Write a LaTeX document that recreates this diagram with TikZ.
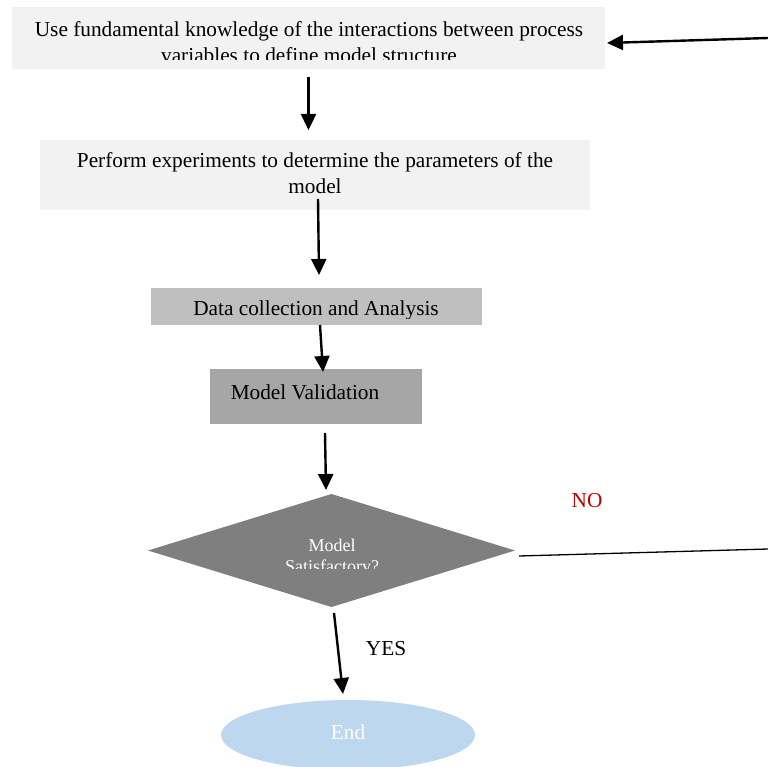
\documentclass[tikz,border=0pt]{standalone}
\usepackage{fontspec}
\setmainfont{Liberation Serif}
\usetikzlibrary{shapes.geometric,arrows.meta}
\definecolor{lightbox}{HTML}{F2F2F2}
\definecolor{midbox}{HTML}{BFBFBF}
\definecolor{darkbox}{HTML}{A6A6A6}
\definecolor{decbox}{HTML}{7F7F7F}
\definecolor{endfill}{HTML}{BDD7EE}
\definecolor{nored}{HTML}{C00000}
\begin{document}
\begin{tikzpicture}[x=1pt,y=-1pt,
  boxshape/.style={rectangle,inner sep=0pt,outer sep=0pt,draw=none},
  txt/.style={inner sep=0pt,outer sep=0pt,anchor=base,font=\fontsize{21.3}{26}\selectfont},
  smalltxt/.style={txt,font=\fontsize{18}{22}\selectfont,text=white},
  arr/.style={line width=2.4pt,-{Triangle[length=16pt,width=15pt]}},
]
\useasboundingbox (0,0) rectangle (768,767);

% boxes
\node[boxshape,fill=lightbox,minimum width=593pt,minimum height=62pt] (b1) at (308.5,38) {};
\node[boxshape,fill=lightbox,minimum width=550pt,minimum height=70pt] (b2) at (315,175) {};
\node[boxshape,fill=midbox,minimum width=331pt,minimum height=37pt] (b3) at (316.5,306.5) {};
\node[boxshape,fill=darkbox,minimum width=212pt,minimum height=55pt] (b4) at (316,396.5) {};
\node[diamond,inner sep=0pt,outer sep=0pt,fill=decbox,minimum width=367pt,minimum height=113pt] (d) at (331.5,550.5) {};
\node[ellipse,inner sep=0pt,outer sep=0pt,fill=endfill,minimum width=254pt,minimum height=70pt] (e) at (348,735) {};

% texts
\node[txt] (t1a) at (309,37) {Use fundamental knowledge of the interactions between process};
\begin{scope}
  \clip (0,40) rectangle (768,60);
  \node[txt] (t1b) at (309,63) {variables to define model structure};
\end{scope}
\node[txt] (t2a) at (315,168) {Perform experiments to determine the parameters of the};
\node[txt] (t2b) at (315,194) {model};
\begin{scope}
  \clip (0,290) rectangle (768,318);
  \node[txt] (t3) at (316,316) {Data collection and Analysis};
\end{scope}
\node[txt] (t4) at (305,399) {Model Validation};
\node[smalltxt] (t5a) at (332,551) {Model};
\begin{scope}
  \clip (0,555) rectangle (768,568);
  \node[smalltxt] (t5b) at (332,572) {Satisfactory?};
\end{scope}
\node[txt,text=nored] (no) at (587,507) {NO};
\node[txt] (yes) at (386,655) {YES};
\node[txt,text=white] (endt) at (348,739) {End};

% connectors
\coordinate (r1) at (768,549);
\coordinate (r2) at (768,38);
\draw[arr] ([yshift=-8pt]b1.south) -- ([xshift=-6.5pt,yshift=10pt]b2.north);
\draw[arr] ([xshift=3pt,yshift=11pt]b2.south) -- ([xshift=2.5pt,yshift=13pt]b3.north);
\draw[arr] ([xshift=3.5pt]b3.south) -- ([xshift=7pt,yshift=-3pt]b4.north);
\draw[arr] ([xshift=9pt,yshift=-9pt]b4.south) -- ([xshift=-5.5pt,yshift=4pt]d.north);
\draw[arr] ([xshift=2.5pt,yshift=-6pt]d.south) -- ([xshift=-5pt,yshift=6pt]e.north);
\draw[line width=1.3pt] ([xshift=4pt,yshift=-5.5pt]d.east) -- (r1);
\draw[arr] (r2) -- ([xshift=2pt,yshift=-5pt]b1.east);
\end{tikzpicture}
\end{document}
